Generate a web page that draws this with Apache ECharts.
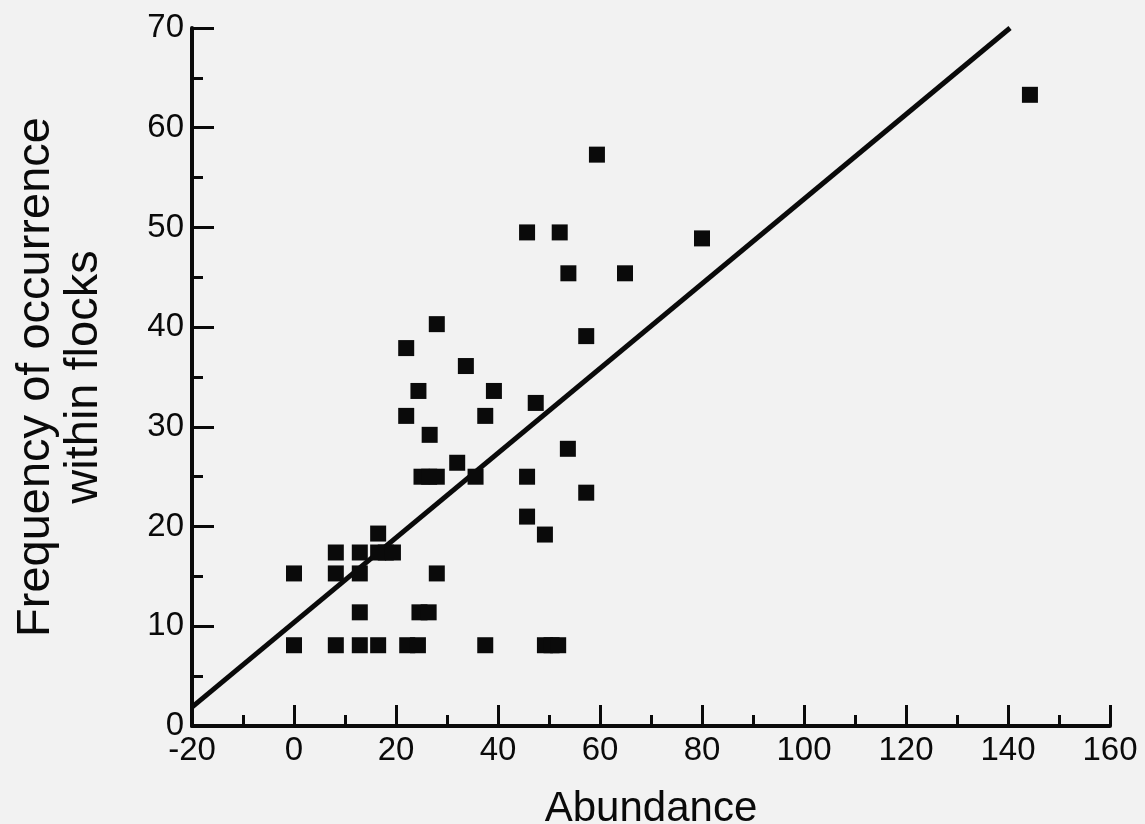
<!DOCTYPE html>
<html>
<head>
<meta charset="utf-8">
<script src="https://cdn.jsdelivr.net/npm/echarts@6/dist/echarts.min.js"></script>
<style>
  html, body { margin: 0; padding: 0; background: #f2f2f2; }
  #chart { width: 1145px; height: 824px; }
</style>
</head>
<body>
<div id="chart"></div>
<script>
// abundance (x) and frequency of occurrence within flocks (y)
var abundance = [
  28, 22, 57.3, 33.7, 24.4, 39.2, 47.4, 22, 37.5, 26.6, 53.7, 32,
  25, 26.5, 28, 35.6, 45.7, 57.3, 45.7, 49.2,
  16.5, 8.2, 12.9, 16.5, 18, 19.4,
  0, 8.2, 12.9, 28,
  12.9, 24.6, 26.4,
  0, 8.2, 12.9, 16.5, 22.2, 24.3, 37.5, 49.2, 50.5, 51.8,
  59.4, 45.7, 52.1, 80, 53.8, 64.9, 144.3
]
var frequency = [
  40.3, 37.9, 39.1, 36.1, 33.6, 33.6, 32.4, 31.1, 31.1, 29.2, 27.8, 26.4,
  25, 25, 25, 25, 25, 23.4, 21, 19.2,
  19.3, 17.4, 17.4, 17.4, 17.4, 17.4,
  15.3, 15.3, 15.3, 15.3,
  11.4, 11.4, 11.4,
  8.1, 8.1, 8.1, 8.1, 8.1, 8.1, 8.1, 8.1, 8.1, 8.1,
  57.3, 49.5, 49.5, 48.9, 45.4, 45.4, 63.3
]
// fitted line end points
var fitX = [-20, 140.4]
var fitY = [1.9, 70]

var chart = echarts.init(document.getElementById('chart'))
var font = '"Liberation Sans", Arial, Helvetica, sans-serif'
var ink = '#0a0a0a'

chart.setOption({
  backgroundColor: '#f2f2f2',
  animation: false,
  grid: { left: 192, right: 35, top: 28, bottom: 98, containLabel: false, outerBoundsMode: 'none' },
  xAxis: {
    type: 'value',
    min: -20,
    max: 160,
    interval: 20,
    name: 'Abundance',
    nameLocation: 'middle',
    nameGap: 62,
    nameTextStyle: { fontFamily: font, fontSize: 42, color: ink },
    axisLine: { onZero: false, lineStyle: { color: ink, width: 4 } },
    axisTick: { inside: true, length: 21, lineStyle: { color: ink, width: 3 } },
    minorTick: { show: true, splitNumber: 2, length: 11, lineStyle: { color: ink, width: 3 } },
    axisLabel: { fontFamily: font, fontSize: 33, color: ink, margin: 8 },
    splitLine: { show: false }
  },
  yAxis: {
    type: 'value',
    min: 0,
    max: 70,
    interval: 10,
    name: 'Frequency of occurrence\nwithin flocks',
    nameLocation: 'middle',
    nameGap: 84,
    nameTextStyle: { fontFamily: font, fontSize: 47, color: ink, lineHeight: 48, align: 'center' },
    axisLine: { onZero: false, lineStyle: { color: ink, width: 4 } },
    axisTick: { inside: true, length: 22, lineStyle: { color: ink, width: 3 } },
    minorTick: { show: true, splitNumber: 2, length: 11, lineStyle: { color: ink, width: 3 } },
    axisLabel: { fontFamily: font, fontSize: 33, color: ink, margin: 8 },
    splitLine: { show: false }
  },
  series: [
    {
      type: 'line',
      data: fitX.map(function (x, i) { return [x, fitY[i]] }),
      showSymbol: false,
      lineStyle: { color: ink, width: 5 },
      z: 2
    },
    {
      type: 'scatter',
      data: abundance.map(function (x, i) { return [x, frequency[i]] }),
      symbol: 'rect',
      symbolSize: 16,
      itemStyle: { color: ink, opacity: 1 },
      z: 3
    }
  ]
})
</script>
</body>
</html>
